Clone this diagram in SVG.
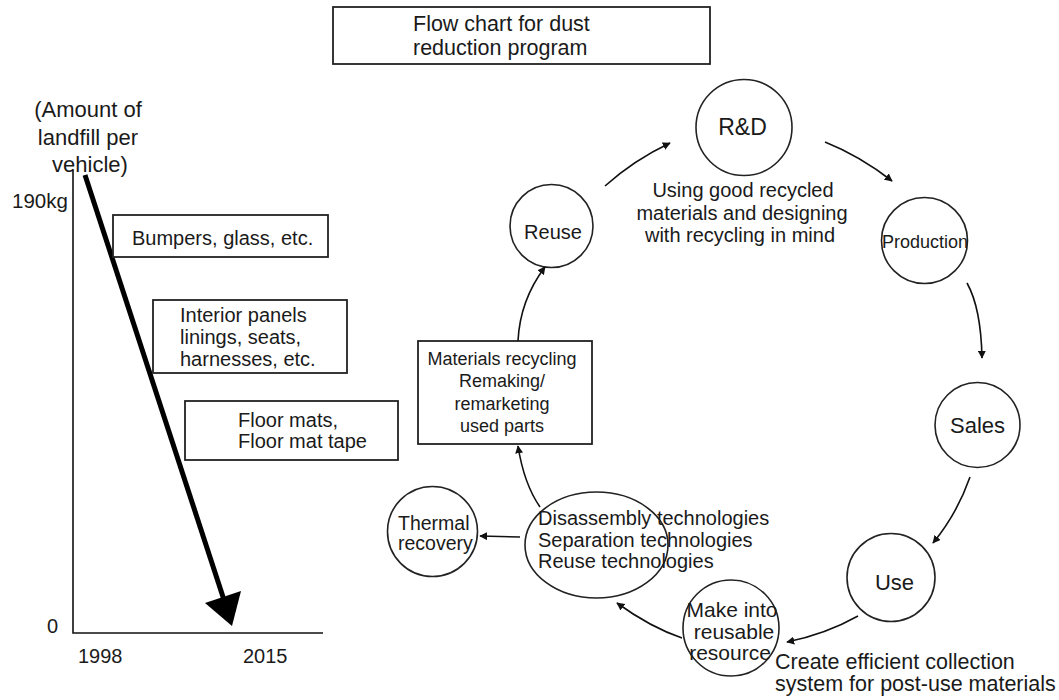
<svg xmlns="http://www.w3.org/2000/svg" width="1059" height="700" viewBox="0 0 1059 700">
<style>
text{font-family:"Liberation Sans",Arial,sans-serif;fill:#1a1a1a}
.box{fill:#fff;stroke:#222;stroke-width:1.8}
.node{fill:#fff;stroke:#222;stroke-width:1.6}
.conn{fill:none;stroke:#111;stroke-width:1.6;marker-end:url(#ah)}
.axis{fill:none;stroke:#111;stroke-width:1.6}
.m{text-anchor:middle}
</style>
<defs>
<marker id="ah" viewBox="0 0 10 10" refX="9" refY="5" markerWidth="8" markerHeight="8" markerUnits="userSpaceOnUse" orient="auto">
<path d="M0,0 L10,5 L0,10 Z" fill="#111"/>
</marker>
</defs>
<rect width="1059" height="700" fill="#fff"/>

<g id="title">
<rect class="box" x="333" y="7" width="377" height="57"/>
<text x="413" y="31" font-size="21.5">Flow chart for dust</text>
<text x="413" y="55" font-size="21.5">reduction program</text>
</g>

<g id="chart">
<text class="m" x="88" y="117" font-size="22">(Amount of</text>
<text class="m" x="88" y="145" font-size="22">landfill per</text>
<text class="m" x="90" y="172" font-size="22">vehicle)</text>
<text x="12" y="208" font-size="20.5">190kg</text>
<text x="47" y="633" font-size="20">0</text>
<text x="78" y="663" font-size="20">1998</text>
<text x="243" y="663" font-size="20">2015</text>
<polyline class="axis" points="73,170 73,633 323,633"/>
</g>

<g id="trend">
<line x1="85" y1="175" x2="225" y2="603" stroke="#000" stroke-width="5"/>
<polygon points="232,626 205,603 241,591" fill="#000"/>
</g>

<g id="bumpers">
<rect class="box" x="113" y="215" width="215" height="42"/>
<text x="132" y="245" font-size="20">Bumpers, glass, etc.</text>
</g>

<g id="interior">
<rect class="box" x="153" y="300" width="194" height="73"/>
<text x="180" y="322" font-size="20">Interior panels</text>
<text x="180" y="344" font-size="20">linings, seats,</text>
<text x="180" y="366" font-size="20">harnesses, etc.</text>
</g>

<g id="floor">
<rect class="box" x="185" y="401" width="213" height="59"/>
<text x="238" y="427" font-size="20">Floor mats,</text>
<text x="238" y="448" font-size="20">Floor mat tape</text>
</g>

<g id="rd">
<circle class="node" cx="744" cy="127.5" r="48"/>
<text class="m" x="742.5" y="135" font-size="23">R&amp;D</text>
<text class="m" x="743" y="197" font-size="20">Using good recycled</text>
<text class="m" x="742" y="220" font-size="20">materials and designing</text>
<text class="m" x="740" y="242" font-size="20">with recycling in mind</text>
</g>

<g id="production">
<circle class="node" cx="924.5" cy="240.5" r="43"/>
<text class="m" x="925" y="248" font-size="18">Production</text>
</g>

<g id="sales">
<circle class="node" cx="977.5" cy="425" r="42.5"/>
<text class="m" x="977.5" y="433" font-size="22">Sales</text>
</g>

<g id="use">
<circle class="node" cx="891" cy="577.5" r="44"/>
<text class="m" x="894.5" y="590" font-size="22">Use</text>
</g>

<g id="make">
<circle class="node" cx="731" cy="628" r="48"/>
<text class="m" x="732" y="617" font-size="21">Make into</text>
<text class="m" x="734" y="638.5" font-size="21">reusable</text>
<text class="m" x="730" y="660" font-size="21">resource</text>
</g>

<g id="collection">
<text x="775" y="669" font-size="21.5">Create efficient collection</text>
<text x="775" y="691" font-size="21.5">system for post-use materials</text>
</g>

<g id="disassembly">
<ellipse class="node" cx="596.5" cy="545" rx="71.5" ry="53"/>
<text x="538" y="525" font-size="20">Disassembly technologies</text>
<text x="538" y="547" font-size="20">Separation technologies</text>
<text x="538" y="568" font-size="20">Reuse technologies</text>
</g>

<g id="thermal">
<circle class="node" cx="432.5" cy="531.5" r="45"/>
<text x="398" y="530" font-size="19.5">Thermal</text>
<text x="398" y="550" font-size="19.5">recovery</text>
</g>

<g id="materials">
<rect class="box" x="418" y="341" width="174" height="103"/>
<text class="m" x="502" y="365" font-size="18">Materials recycling</text>
<text class="m" x="502" y="387" font-size="18">Remaking/</text>
<text class="m" x="502" y="410" font-size="18">remarketing</text>
<text class="m" x="502" y="432" font-size="18">used parts</text>
</g>

<g id="reuse">
<circle class="node" cx="551.5" cy="226" r="41.5"/>
<text class="m" x="553" y="239" font-size="20">Reuse</text>
</g>

<g id="connectors">
<path class="conn" d="M605,186 Q634,160 670,143"/>
<path class="conn" d="M825,142 Q860,156 892,181"/>
<path class="conn" d="M967,283 Q981,308 982,358"/>
<path class="conn" d="M970,477 Q957,514 933,543"/>
<path class="conn" d="M858,616 Q826,634 787,642"/>
<path class="conn" d="M682,638 Q650,627 617,603"/>
<path class="conn" d="M520,537 L480,536"/>
<path class="conn" d="M540,507 Q524,484 518,446"/>
<path class="conn" d="M518,341 Q520,300 545,267"/>
</g>
</svg>
